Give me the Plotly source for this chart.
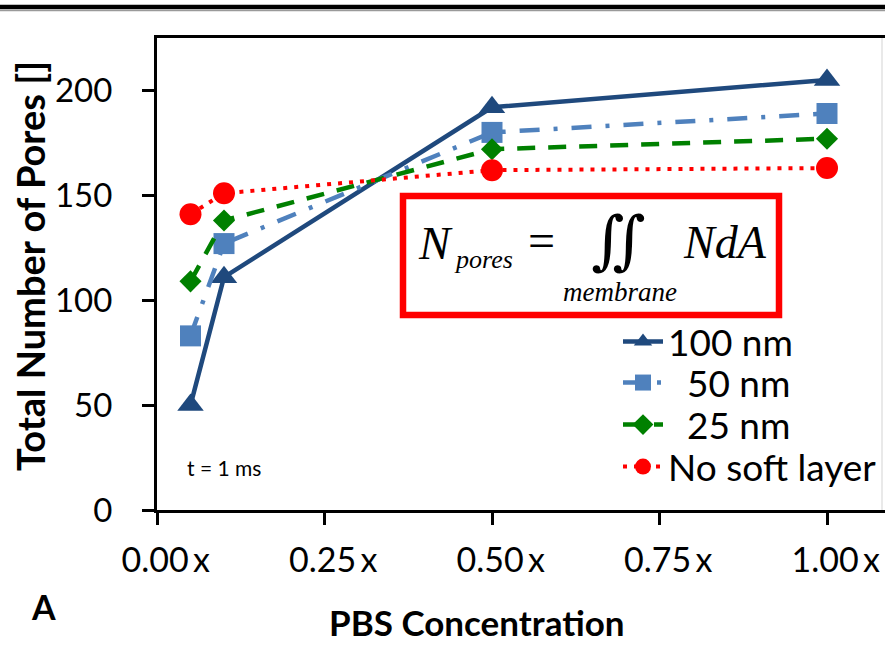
import plotly.graph_objects as go

# ---- data ----
pbs_conc = [0.05, 0.1, 0.5, 1.0]
pores_100nm = [50, 111, 192, 205]
pores_50nm = [83, 127, 180, 189]
pores_25nm = [109, 138, 172, 177]
pores_nosoft = [141, 151, 162, 163]

series_names = ["100 nm", "\u00a0\u00a050 nm", "\u00a0\u00a025 nm", "No soft layer"]
x_tickvals = [0, 0.25, 0.5, 0.75, 1.0]
x_ticktext = ["\u00a0\u00a00.00\u2009x", "\u00a0\u00a00.25\u2009x", "\u00a0\u00a00.50\u2009x",
              "\u00a0\u00a00.75\u2009x", "\u00a0\u00a01.00\u2009x"]
y_tickvals = [0, 50, 100, 150, 200]

W, H = 885, 656
ML, MR, MT, MB = 157, 0, 38, 146
PW, PH = W - ML - MR, H - MT - MB


def px(x):
    return (x - ML) / PW


def py(y):
    return (H - MB - y) / PH


FONT = "Lato, Carlito, Calibri, sans-serif"
SERIF = "Liberation Serif, Times New Roman, DejaVu Serif, serif"

fig = go.Figure()
fig.add_trace(go.Scatter(
    x=pbs_conc, y=pores_100nm, name=series_names[0], mode="lines+markers", legend="legend",
    line=dict(color="#1F497D", width=4.5),
    marker=dict(symbol="triangle-up", size=23, color="#1F497D")))
fig.add_trace(go.Scatter(
    x=pbs_conc, y=pores_50nm, name=series_names[1], mode="lines+markers", legend="legend2",
    line=dict(color="#4F81BD", width=4.5, dash="20px,14px,4px,14px"),
    marker=dict(symbol="square", size=21, color="#4F81BD")))
fig.add_trace(go.Scatter(
    x=pbs_conc, y=pores_25nm, name=series_names[2], mode="lines+markers", legend="legend3",
    line=dict(color="#008000", width=4.5, dash="18px,13px"),
    marker=dict(symbol="diamond", size=17, color="#008000")))
fig.add_trace(go.Scatter(
    x=pbs_conc, y=pores_nosoft, name=series_names[3], mode="lines+markers", legend="legend4",
    line=dict(color="#FF0000", width=4, dash="4px,7px"),
    marker=dict(symbol="circle", size=22, color="#FF0000")))

shapes = [
    # top border of the figure
    dict(type="line", xref="paper", yref="paper", x0=px(0), x1=px(W), y0=py(7), y1=py(7),
         line=dict(color="black", width=4.5)),
    dict(type="line", xref="paper", yref="paper", x0=px(0), x1=px(W), y0=py(10.5), y1=py(10.5),
         line=dict(color="#9a9a9a", width=1.5)),
    # faint right edge of plot area
    dict(type="line", xref="paper", yref="paper", x0=px(882), x1=px(882), y0=py(38), y1=py(510),
         line=dict(color="#e2e2e2", width=1.5)),
    # formula box
    dict(type="rect", xref="paper", yref="paper", x0=px(403), x1=px(779), y0=py(196), y1=py(315),
         line=dict(color="#FF0000", width=6.5), fillcolor="white", layer="above"),
]

annotations = [
    dict(text="<i>N</i>", x=px(416), y=py(243), xanchor="left", yanchor="middle",
         font=dict(family=SERIF, size=47, color="black")),
    dict(text="<i>pores</i>", x=px(452), y=py(259), xanchor="left", yanchor="middle",
         font=dict(family=SERIF, size=26, color="black")),
    dict(text="=", x=px(541), y=py(240), xanchor="center", yanchor="middle",
         font=dict(family=SERIF, size=48, color="black")),
    dict(text="\u222C", x=px(618), y=py(241), xanchor="center", yanchor="middle",
         font=dict(family=SERIF, size=64, color="black")),
    dict(text="<i>membrane</i>", x=px(620), y=py(292), xanchor="center", yanchor="middle",
         font=dict(family=SERIF, size=27, color="black")),
    dict(text="<i>NdA</i>", x=px(681), y=py(243), xanchor="left", yanchor="middle",
         font=dict(family=SERIF, size=46, color="black")),
    dict(text="t = 1 ms", x=px(185), y=py(467), xanchor="left", yanchor="middle",
         font=dict(family=FONT, size=21, color="black")),
    dict(text="<b>A</b>", x=px(43), y=py(606), xanchor="center", yanchor="middle",
         font=dict(family=FONT, size=34, color="black")),
    dict(text="<b>PBS Concentration</b>", x=px(477), y=py(622), xanchor="center", yanchor="middle",
         font=dict(family=FONT, size=35, color="black")),
    dict(text="<b>Total Number of Pores []</b>", x=px(30), y=py(266), xanchor="center",
         yanchor="middle", textangle=-90, font=dict(family=FONT, size=38, color="black")),
]
for a in annotations:
    a.update(xref="paper", yref="paper", showarrow=False)

legend_rows = [342, 383, 425, 467]
legend_common = dict(xanchor="left", yanchor="middle", x=px(618),
                     font=dict(family=FONT, size=37, color="black"),
                     bgcolor="rgba(255,255,255,0)", itemwidth=40,
                     borderwidth=0)

fig.update_layout(
    width=W, height=H,
    margin=dict(l=ML, r=MR, t=MT, b=MB, pad=0),
    paper_bgcolor="white", plot_bgcolor="white",
    font=dict(family=FONT, color="black"),
    showlegend=True,
    legend=dict(y=py(legend_rows[0]), **legend_common),
    legend2=dict(y=py(legend_rows[1]), **legend_common),
    legend3=dict(y=py(legend_rows[2]), **legend_common),
    legend4=dict(y=py(legend_rows[3]), **legend_common),
    xaxis=dict(range=[0, PW / 670], tickvals=x_tickvals, ticktext=x_ticktext,
               showgrid=False, zeroline=False, showline=True, linecolor="black", linewidth=3,
               mirror=True, ticks="outside", ticklen=12, tickwidth=2.5, tickcolor="black",
               tickfont=dict(family=FONT, size=34), ticklabelstandoff=6),
    yaxis=dict(range=[0, 225], tickvals=y_tickvals,
               showgrid=False, zeroline=False, showline=True, linecolor="black", linewidth=3,
               ticks="outside", ticklen=12, tickwidth=2.5, tickcolor="black",
               tickfont=dict(family=FONT, size=33), ticklabelstandoff=23),
    shapes=shapes,
    annotations=annotations,
)

fig.write_html("out.html", post_script="document.body.style.margin='0';",
               config={"displayModeBar": False})
